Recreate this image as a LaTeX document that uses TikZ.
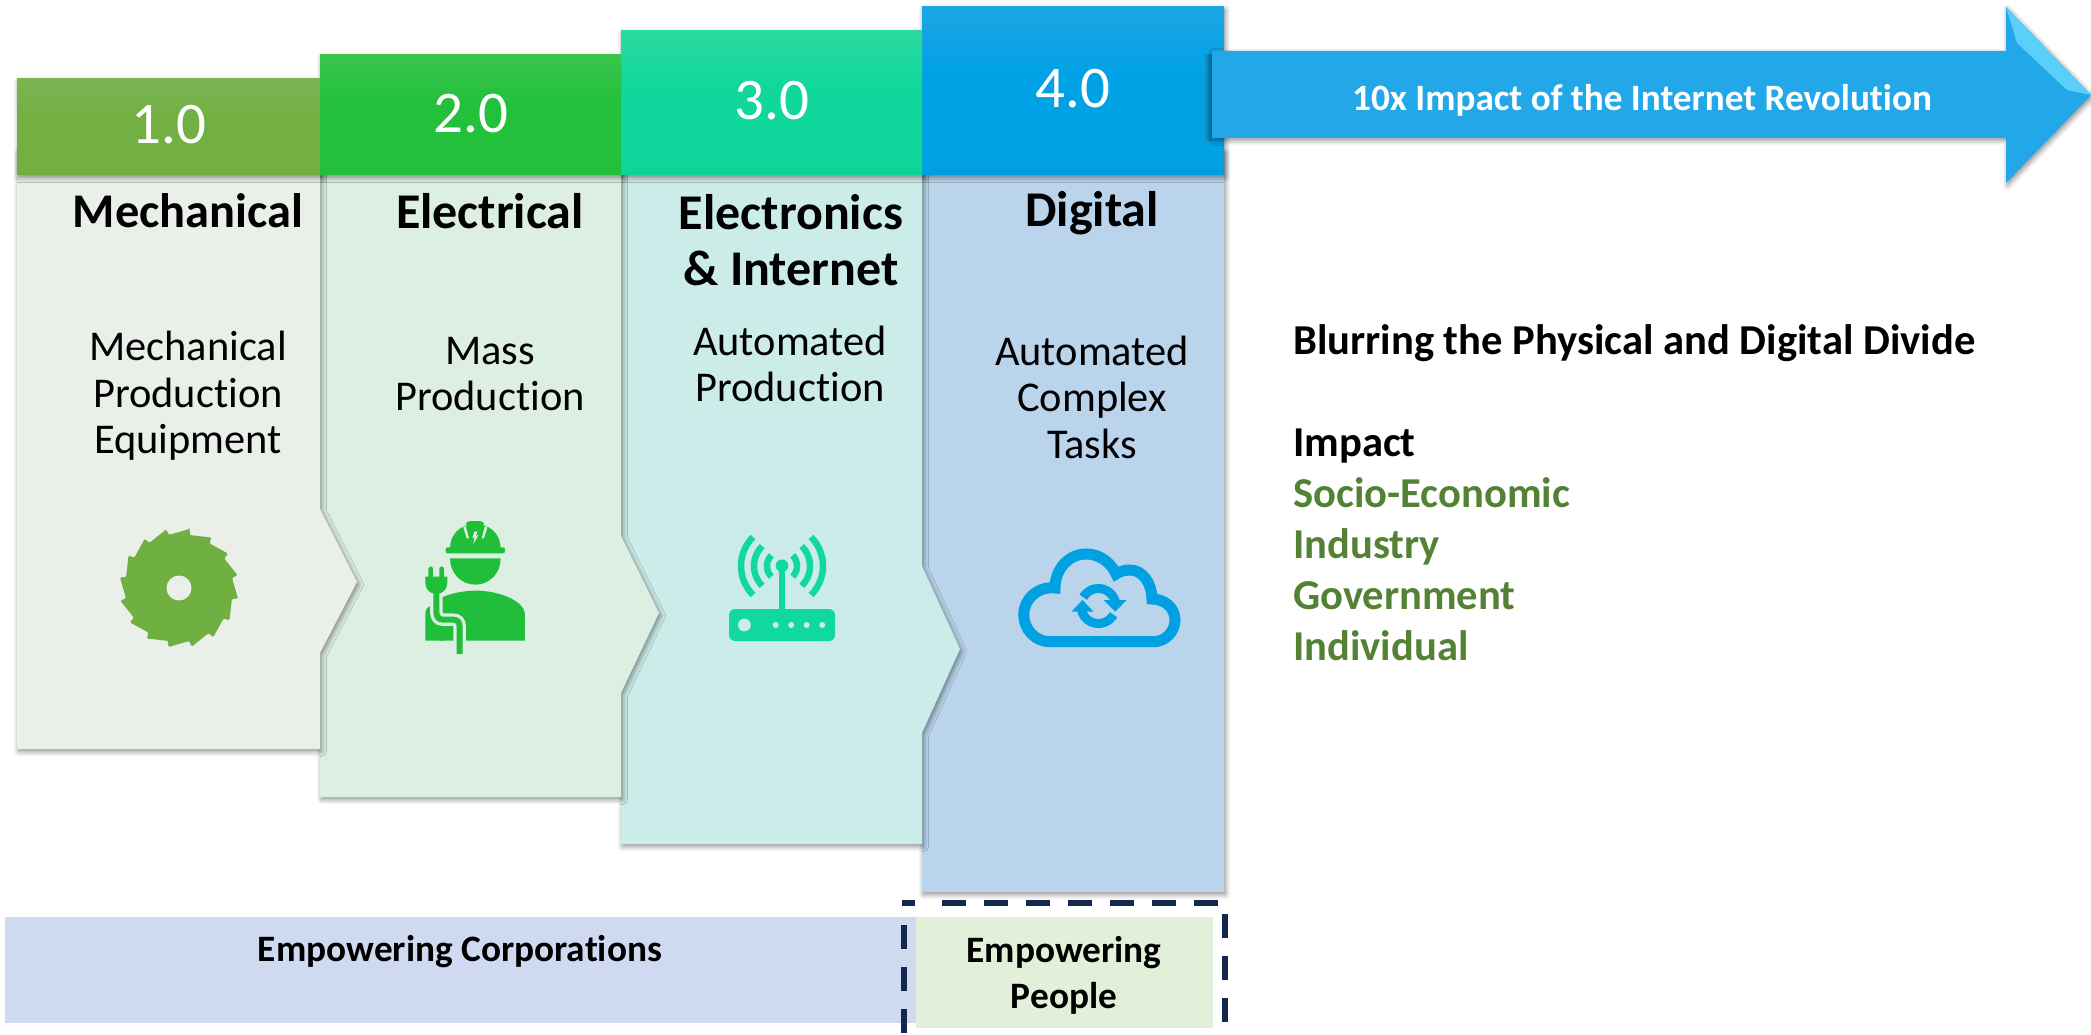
\documentclass[tikz,border=0pt]{standalone}
\usepackage{fontspec}
\setmainfont[Ligatures=NoCommon]{Carlito}
\usetikzlibrary{shadows,shadows.blur}
\definecolor{bodyA}{HTML}{EAF0E9}
\definecolor{bodyB}{HTML}{DDEFE2}
\definecolor{bodyC}{HTML}{CCECE9}
\definecolor{bodyD}{HTML}{BAD4EC}
\definecolor{iconA}{HTML}{70B042}
\definecolor{iconB}{HTML}{20BE3A}
\definecolor{iconC}{HTML}{11D89C}
\definecolor{iconD}{HTML}{00A1E2}
\definecolor{navy}{HTML}{14284F}
\definecolor{leaf}{HTML}{548235}
\definecolor{arrowblue}{HTML}{22A8E8}
\definecolor{arrowhi}{HTML}{5ACFF8}
\definecolor{bandblue}{HTML}{CFDAF0}
\definecolor{bandgreen}{HTML}{E2EFD9}
\definecolor{shadeA}{HTML}{0AA0E2}
\definecolor{shadeB}{HTML}{006F9E}
\newcommand{\hdrshade}[4]{\definecolor{t#1}{HTML}{#2}\definecolor{m#1}{HTML}{#3}\definecolor{b#1}{HTML}{#4}%
  \pgfdeclareverticalshading{#1}{100bp}{color(0bp)=(b#1);color(10bp)=(b#1);color(30bp)=(m#1);color(55bp)=(m#1);color(98bp)=(t#1);color(100bp)=(t#1)}}
\hdrshade{headA}{85BA62}{72B043}{66A035}
\hdrshade{headB}{52C95F}{23C03C}{1DB535}
\hdrshade{headC}{4CDBA6}{10D79B}{0AC08A}
\hdrshade{headD}{3EAAE6}{00A2E5}{0092D4}
\tikzset{
  softshadow/.style={blur shadow={shadow xshift=1.5pt,shadow yshift=-2.5pt,shadow blur radius=5pt,shadow blur steps=6,shadow opacity=45}},
  body/.style={softshadow},
  numtxt/.style={text=white,font=\fontsize{59}{60}\selectfont,inner sep=0pt},
  headtxt/.style={font=\bfseries\fontsize{50}{56}\selectfont,align=center,inner sep=0pt},
  desctxt/.style={font=\fontsize{42.4}{46.5}\selectfont,align=center,inner sep=0pt},
  banner/.style={font=\bfseries\fontsize{37.3}{46}\selectfont,align=center,inner sep=0pt},
  sidetxt/.style={anchor=base west,font=\bfseries\fontsize{42.6}{44}\selectfont,inner sep=0pt},
  dashline/.style={navy,line width=6pt,dash pattern=on 24pt off 18pt},
}
\begin{document}
\begin{tikzpicture}[x=1pt,y=-1pt]
\useasboundingbox (0,0) rectangle (2091,1035);
% column 4
\path[fill=bodyD,body] (922,150) -- (1224,150) -- (1224,892) -- (922,892) -- cycle;
\path[fill=mheadD,body] (922,7) rectangle (1224,175);
% column 3
\path[fill=bodyC,body] (621,150) -- (922,150) -- (922,566) -- (960,649) -- (922,733) -- (922,844) -- (621,844) -- cycle;
\path[fill=mheadC,body] (621,31) rectangle (922,175);
% column 2
\path[fill=bodyB,body] (320,150) -- (621,150) -- (621,536) -- (659,613) -- (621,693) -- (621,797) -- (320,797) -- cycle;
\path[fill=mheadB,body] (320,55) rectangle (621,175);
% column 1
\path[fill=bodyA,body] (17,150) -- (320,150) -- (320,509) -- (357,582) -- (320,653) -- (320,749) -- (17,749) -- cycle;
\path[fill=mheadA,body] (17,79) rectangle (320,175);
% header faces
\path[shading=headD] (922,7) rectangle (1224,175);
\path[shading=headC] (621,31) rectangle (922,175);
\path[shading=headB] (320,55) rectangle (621,175);
\path[shading=headA] (17,79) rectangle (320,175);
% big arrow
\shade[left color=shadeA,right color=shadeB] (1203,55) rectangle (1212,141);
\path[fill=arrowblue,body] (1212,51) -- (2006,51) -- (2006,7) -- (2091,95) -- (2006,183) -- (2006,138) -- (1212,138) -- cycle;
\fill[arrowhi] (2006,7) -- (2091,95) -- (2067,90) -- (2017,43) -- cycle;
% numbers
\node[numtxt] (n1) at (169,125) {1.0};
\node[numtxt] (n2) at (471,114) {2.0};
\node[numtxt] (n3) at (772,101) {3.0};
\node[numtxt] (n4) at (1073,89) {4.0};
% headings
\node[headtxt,font=\bfseries\fontsize{48.4}{56}\selectfont] (h1) at (188,211) {Mechanical};
\node[headtxt] (h2) at (490,211) {Electrical};
\node[headtxt] (h3) at (791,240) {Electronics\\\& Internet};
\node[headtxt] (h4) at (1092,213) {Digital};
% descriptions
\node[desctxt] (d1) at (188,396) {Mechanical\\Production\\Equipment};
\node[desctxt] (d2) at (490,374) {Mass\\Production};
\node[desctxt] (d3) at (790,364) {Automated\\Production};
\node[desctxt] (d4) at (1092,397) {Automated\\Complex\\Tasks};
% arrow label
\node[text=white,font=\bfseries\fontsize{37.2}{40}\selectfont,inner sep=0pt] (al) at (1642,100) {10x Impact of the Internet Revolution};
% right texts
\node[sidetxt] (r1) at (1293,354) {Blurring the Physical and Digital Divide};
\node[sidetxt] (r2) at (1293,456) {Impact};
\node[sidetxt,text=leaf] (r3) at (1293,507) {Socio-Economic};
\node[sidetxt,text=leaf] (r4) at (1293,558) {Industry};
\node[sidetxt,text=leaf] (r5) at (1293,609) {Government};
\node[sidetxt,text=leaf] (r6) at (1293,660) {Individual};
% bottom banners
\fill[bandblue] (5,917) rectangle (916,1023);
\fill[bandgreen] (916,917) rectangle (1213,1028);
\node[banner] (b1) at (460,952) {Empowering Corporations};
\node[banner] (b2) at (1064,975) {Empowering\\People};
\draw[dashline] (942,903) -- (1222,903);
\draw[navy,line width=6pt] (902,903) -- (915,903);
\draw[dashline] (1225,914) -- (1225,1035);
\draw[dashline] (904,925) -- (904,1033);
\draw[dashline] (905,1037.7) -- (1222,1037.7);
% saw blade
\begin{scope}[shift={(179,588)}]
\fill[iconA,rounded corners=1.2pt] (-79.8:60)
  \foreach \k in {0,...,15}{ -- ({-79.8+22.5*\k+1.5}:54) -- ({-79.8+22.5*\k+22.5}:60) } -- cycle;
\fill[bodyA] (0,0) circle[radius=12.5pt];
\end{scope}
% worker
\begin{scope}[shift={(80,500)},scale=1/3]
\fill[iconB] (1110,145) .. controls (1110,100) and (1145,72) .. (1186,72) .. controls (1227,72) and (1262,100) .. (1262,145) -- cycle;
\fill[iconB,rounded corners=4pt] (1158,80) -- (1158,63) -- (1212,63) -- (1212,80) -- cycle;
\fill[iconB,rounded corners=2pt] (1097,142) rectangle (1275,160);
\fill[bodyB] (1150,82) -- (1157,78) -- (1167,115) -- (1160,115) -- cycle;
\fill[bodyB] (1222,82) -- (1215,78) -- (1205,115) -- (1212,115) -- cycle;
\fill[bodyB] (1183,95) -- (1177,115) -- (1184,112) -- (1180,133) -- (1195,105) -- (1187,108) -- (1193,95) -- cycle;
\fill[iconB] (1110,175) -- (1262,175) .. controls (1262,220) and (1228,254) .. (1186,254) .. controls (1144,254) and (1110,220) .. (1110,175) -- cycle;
\fill[iconB] (1080,295) .. controls (1110,280) and (1150,272) .. (1190,272) .. controls (1250,272) and (1335,300) .. (1335,345) -- (1335,422) -- (1080,422) -- cycle;
\fill[iconB] (1036,422) -- (1036,340) .. controls (1036,330) and (1040,325) .. (1050,318) -- (1090,318) -- (1090,422) -- cycle;
\draw[bodyB,line width=12.5pt] (1069,270) -- (1069,335) .. controls (1069,350) and (1075,359) .. (1090,359) -- (1118,359) .. controls (1132,359) and (1139,366) .. (1139,380) -- (1139,425);
\fill[bodyB] (1120,422.5) rectangle (1160,470);
\draw[iconB,line width=6pt] (1069,270) -- (1069,335) .. controls (1069,350) and (1075,359) .. (1090,359) -- (1118,359) .. controls (1132,359) and (1139,366) .. (1139,380) -- (1139,462);
\fill[iconB,rounded corners=1.5pt] (1045,235) -- (1045,200) -- (1059,200) -- (1059,235) -- cycle;
\fill[iconB,rounded corners=1.5pt] (1078,235) -- (1078,200) -- (1092,200) -- (1092,235) -- cycle;
\fill[iconB] (1036,230) -- (1102,230) -- (1102,248) .. controls (1102,268) and (1088,282) .. (1069,282) .. controls (1050,282) and (1036,268) .. (1036,248) -- cycle;
\end{scope}
% router
\fill[iconC,rounded corners=6pt] (729,609) rectangle (835,641);
\fill[bodyC] (744.4,625) circle[radius=6.4pt];
\foreach \px in {775.7,791.2,806.7,822.2}{\fill[bodyC] (\px,625) circle[radius=3pt];}
\fill[iconC] (779,566) rectangle (785,609);
\fill[iconC] (782,565.7) circle[radius=6.3pt];
\foreach \rr in {15,28,41}{
  \draw[iconC,line width=6.5pt] plot[domain=-45:45,samples=15] ({782+\rr*cos(\x)},{566+\rr*sin(\x)});
  \draw[iconC,line width=6.5pt] plot[domain=135:225,samples=15] ({782+\rr*cos(\x)},{566+\rr*sin(\x)});
}
% cloud
\draw[iconD,line width=11pt] (1050,641.7) .. controls (1035,641.7) and (1023.7,629) .. (1023.7,614.5) .. controls (1023.7,600) and (1037,586) .. (1055,588)
  .. controls (1055,570) and (1068,554) .. (1086,554) .. controls (1102,554) and (1112,565) .. (1116,574)
  .. controls (1120,571) and (1126,570) .. (1130,570) .. controls (1143,570) and (1152,584) .. (1152,599)
  .. controls (1165,599) and (1175,608) .. (1175,620) .. controls (1175,632) and (1165,641.7) .. (1153.5,641.7) -- cycle;
\draw[iconD,line width=9pt] plot[domain=-150:-15,samples=15] ({1098.4+17.5*cos(\x)},{606+17.5*sin(\x)});
\draw[iconD,line width=9pt] plot[domain=30:165,samples=15] ({1098.4+17.5*cos(\x)},{606+17.5*sin(\x)});
\fill[iconD] (1103.6,600) -- (1126.6,600) -- (1115.2,611.7) -- cycle;
\fill[iconD] (1071.5,611.7) -- (1093.6,611.7) -- (1082.4,600) -- cycle;
\end{tikzpicture}
\end{document}
